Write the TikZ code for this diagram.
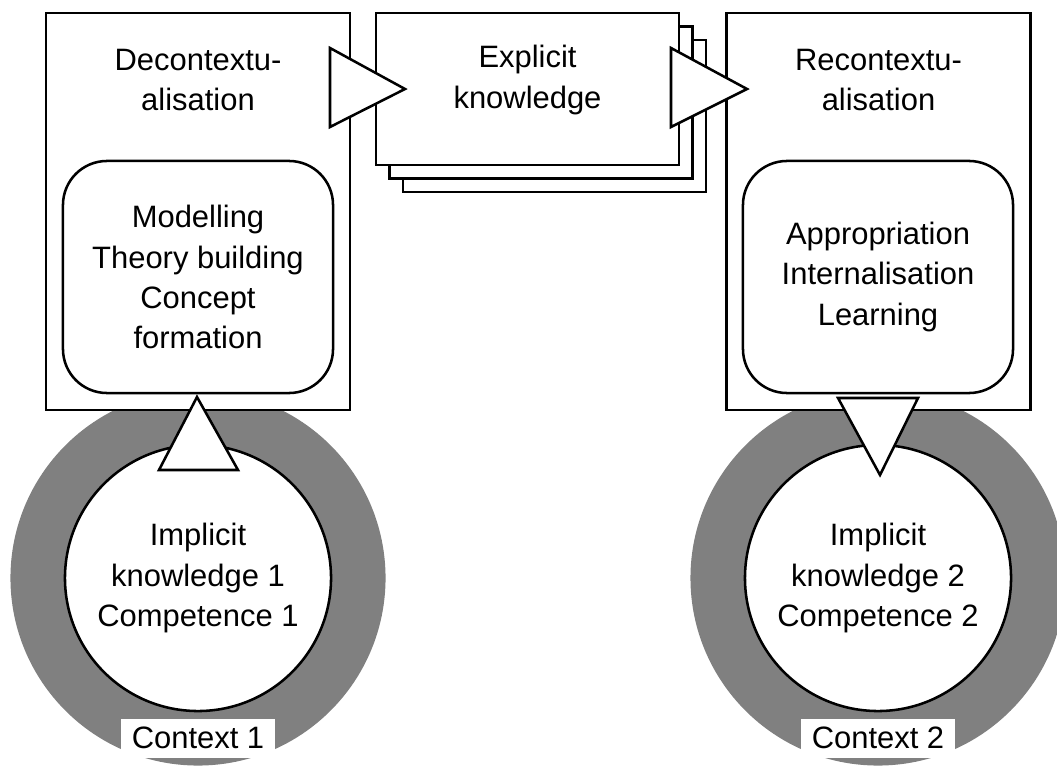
\documentclass[tikz,border=0pt]{standalone}
\usepackage{fontspec}
\setmainfont{Liberation Sans}
\usetikzlibrary{positioning}
\begin{document}
\begin{tikzpicture}[x=0.025cm,y=-0.025cm,line width=1.8pt,
  font=\fontsize{22}{28.5}\selectfont,
  phase/.style={draw,fill=white,minimum width=7.6cm,minimum height=9.925cm,inner sep=0pt},
  act/.style={draw,fill=white,rounded corners=1.1cm,minimum width=6.75cm,minimum height=5.8cm,align=center},
  card/.style={draw,fill=white,minimum width=7.575cm,minimum height=3.8cm},
  ctx/.style={circle,fill=gray,minimum size=9.375cm,inner sep=0pt},
  tacit/.style={circle,draw,fill=white,minimum size=6.65cm,inner sep=0pt,align=center},
  title/.style={align=center,inner sep=0pt},
  tri/.style={draw,fill=white,line join=miter},
  tag/.style={fill=white,minimum width=3.825cm,minimum height=0.975cm,inner sep=0pt}]
\useasboundingbox (0,0) rectangle (1057,767);
\node[ctx] (ctxA) at (198,578) {};
\node[ctx] (ctxB) at (878,578) {};
\node[tacit] (tacitA) at (198,578) {Implicit\\knowledge 1\\Competence 1};
\node[tacit] (tacitB) at (878,578) {Implicit\\knowledge 2\\Competence 2};
\node[phase] (decon) at (198,211.5) {};
\node[phase] (recon) at (878.5,211.5) {};
\node[title] (dectitle) at (198,80) {Decontextu-\\alisation};
\node[title] (rectitle) at (878.5,80) {Recontextu-\\alisation};
\node[act] (model) at (198,277) {Modelling\\Theory building\\Concept\\formation};
\node[act] (learn) at (878,277) {Appropriation\\Internalisation\\Learning};
\foreach \k in {2,1}{
  \node[card] (card\k) at (527.5+13.5*\k,89+13.5*\k) {};
}
\node[card] (explicit) at (527.5,89) {};
\node[title] (expltitle) at (527.5,80) {Explicit\\knowledge};
\draw[tri] (330,48) -- (405,89) -- (330,127) -- cycle;
\draw[tri] (671,48) -- (747,89) -- (671,127) -- cycle;
\draw[tri] (159,470) -- (197,397) -- (238,470) -- cycle;
\draw[tri] (838,398) -- (880,475) -- (918,398) -- cycle;
\node[tag] (ctxAlabel) at (198,738) {Context 1};
\node[tag] (ctxBlabel) at (878,738) {Context 2};
\end{tikzpicture}
\end{document}
